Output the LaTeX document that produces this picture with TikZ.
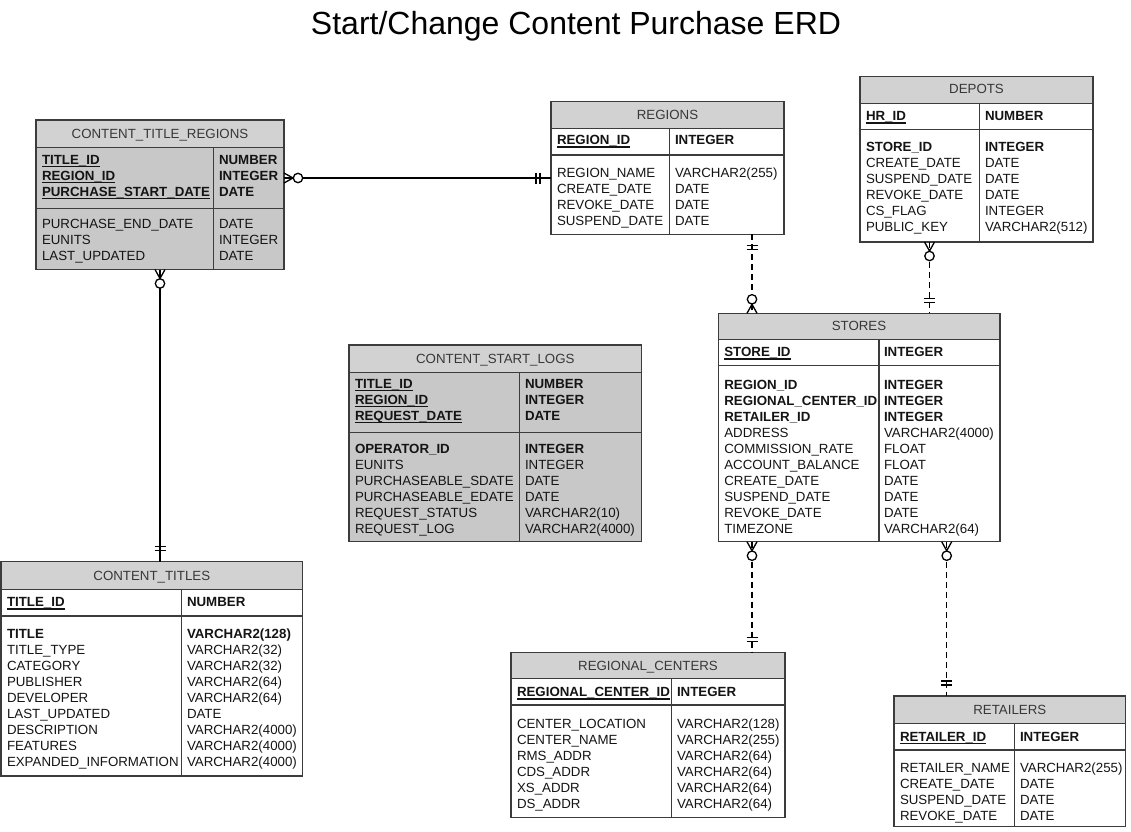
\documentclass[tikz,border=0pt]{standalone}
\usepackage{fontspec}
\setmainfont{Liberation Sans}
\usetikzlibrary{calc}
\definecolor{hdr}{RGB}{210,210,210}
\definecolor{gbody}{RGB}{200,200,200}
\definecolor{edge}{RGB}{60,60,60}
\definecolor{ink}{RGB}{20,20,20}
\newcommand\erfont{\fontsize{13.3}{16}\selectfont}
\tikzset{
 txt/.style={anchor=base west, inner sep=0pt, outer sep=0pt, font=\erfont, text=ink},
 hdrtxt/.style={anchor=base, inner sep=0pt, outer sep=0pt, font=\erfont, text=ink!85},
 ebox/.style={draw=edge, line width=1.2pt},
 erline/.style={draw=black, line width=1.3pt},
 erdash/.style={erline, dash pattern=on 6pt off 4pt},
 pkul/.style={draw=ink, line width=1.1pt},
}
% #1 name, #2 L, #3 T, #4 R, #5 header bottom, #6 pk bottom, #7 bottom, #8 divider, #9 body fill
\newcommand\erent[9]{%
 \fill[#9] (#2,#3) rectangle (#4,#7);
 \fill[hdr] (#2,#3) rectangle (#4,#5);
 \draw[ebox] (#2,#5) -- (#4,#5) (#2,#6) -- (#4,#6) (#8,#5) -- (#8,#7);
 \node[ebox, inner sep=0pt, outer sep=0pt, minimum width={(#4-#2)*1pt}, minimum height={(#7-#3)*1pt}] (#1) at ({(#2+#4)/2},{(#3+#7)/2}) {};
}
% #1 prefix, #2 x, #3 first row centre y, #4 list
\newcommand\colrows[4]{%
 \foreach \t [count=\i] in {#4}
  \node[txt] (#1\i) at (#2,{#3+4.8+16*(\i-1)}) {\t};
}
\newcommand\pkrows[4]{%
 \foreach \t [count=\i] in {#4} {
  \node[txt, font=\erfont\bfseries] (#1\i) at (#2,{#3+4.8+16*(\i-1)}) {\t};
  \draw[pkul] ([yshift=-2.2pt]#1\i.base west) -- ([yshift=-2.2pt]#1\i.base east);
 }
}
\newcommand\barsH[2]{%
 \draw[erline] ($(#1)+({11*#2},-5.5)$) -- ++(0,11);
 \draw[erline] ($(#1)+({15*#2},-5.5)$) -- ++(0,11);
}
\newcommand\crowH[2]{%
 \draw[erline] ($(#1)+(0,-5)$) -- ($(#1)+({9*#2},0)$) -- ($(#1)+(0,5)$);
 \draw[erline, fill=white] ($(#1)+({14*#2},0)$) circle (4.7);
}
\newcommand\barsV[2]{%
 \draw[erline] ($(#1)+(-5.5,{11*#2})$) -- ++(11,0);
 \draw[erline] ($(#1)+(-5.5,{15*#2})$) -- ++(11,0);
}
\newcommand\crowV[2]{%
 \draw[erline] ($(#1)+(-5,0)$) -- ($(#1)+(0,{9*#2})$) -- ($(#1)+(5,0)$);
 \draw[erline, fill=white] ($(#1)+(0,{14*#2})$) circle (4.7);
}
\begin{document}
\begin{tikzpicture}[x=1pt,y=-1pt]
\useasboundingbox[fill=white] (0,0) rectangle (1131,831);

\node[anchor=base, inner sep=0pt, font=\fontsize{32}{38}\selectfont, text=black] (title) at (576,34) {Start/Change Content Purchase ERD};

% CONTENT_TITLE_REGIONS
\erent{ctr}{36}{120}{284}{147.3}{208.7}{269.5}{213.5}{gbody}
\node[hdrtxt] (ctrh) at (160,138.3) {CONTENT\_TITLE\_REGIONS};
\pkrows{ctrpk}{42}{159.5}{TITLE\_ID,REGION\_ID,PURCHASE\_START\_DATE}
\colrows{ctrpt}{219}{159.5}{\textbf{NUMBER},\textbf{INTEGER},\textbf{DATE}}
\colrows{ctrbl}{42}{223.5}{PURCHASE\_END\_DATE,EUNITS,LAST\_UPDATED}
\colrows{ctrbt}{219}{223.5}{DATE,INTEGER,DATE}

% REGIONS
\erent{regions}{551}{101.5}{784}{128.3}{155}{234.3}{669.5}{white}
\node[hdrtxt] (regh) at (667.5,119.1) {REGIONS};
\pkrows{regpk}{557}{140}{REGION\_ID}
\colrows{regpt}{675}{140}{\textbf{INTEGER}}
\colrows{regbl}{557}{172.5}{REGION\_NAME,CREATE\_DATE,REVOKE\_DATE,SUSPEND\_DATE}
\colrows{regbt}{675}{172.5}{VARCHAR2(255),DATE,DATE,DATE}

% DEPOTS
\erent{depots}{860}{76.5}{1093}{103.5}{129.5}{242}{979.5}{white}
\node[hdrtxt] (deph) at (976.5,93.3) {DEPOTS};
\pkrows{deppk}{866}{116}{HR\_ID}
\colrows{deppt}{985}{116}{\textbf{NUMBER}}
\colrows{depbl}{866}{147}{\textbf{STORE\_ID},CREATE\_DATE,SUSPEND\_DATE,REVOKE\_DATE,CS\_FLAG,PUBLIC\_KEY}
\colrows{depbt}{985}{147}{\textbf{INTEGER},DATE,DATE,DATE,INTEGER,VARCHAR2(512)}

% STORES
\erent{stores}{718.3}{313.3}{1000}{339.3}{365.7}{541.7}{879}{white}
\node[hdrtxt] (stoh) at (859,330.5) {STORES};
\pkrows{stopk}{724.3}{352}{STORE\_ID}
\colrows{stopt}{884}{352}{\textbf{INTEGER}}
\colrows{stobl}{724.3}{384.3}{\textbf{REGION\_ID},\textbf{REGIONAL\_CENTER\_ID},\textbf{RETAILER\_ID},ADDRESS,COMMISSION\_RATE,ACCOUNT\_BALANCE,CREATE\_DATE,SUSPEND\_DATE,REVOKE\_DATE,TIMEZONE}
\colrows{stobt}{884}{384.3}{\textbf{INTEGER},\textbf{INTEGER},\textbf{INTEGER},VARCHAR2(4000),FLOAT,FLOAT,DATE,DATE,DATE,VARCHAR2(64)}

% CONTENT_START_LOGS
\erent{csl}{349}{345}{641.7}{372.3}{432.3}{541.7}{519.3}{gbody}
\node[hdrtxt] (cslh) at (495.3,363.8) {CONTENT\_START\_LOGS};
\pkrows{cslpk}{355}{383.5}{TITLE\_ID,REGION\_ID,REQUEST\_DATE}
\colrows{cslpt}{525}{383.5}{\textbf{NUMBER},\textbf{INTEGER},\textbf{DATE}}
\colrows{cslbl}{355}{449}{\textbf{OPERATOR\_ID},EUNITS,PURCHASEABLE\_SDATE,PURCHASEABLE\_EDATE,REQUEST\_STATUS,REQUEST\_LOG}
\colrows{cslbt}{525}{449}{\textbf{INTEGER},INTEGER,DATE,DATE,VARCHAR2(10),VARCHAR2(4000)}

% CONTENT_TITLES
\erent{ct}{1}{561.7}{302.7}{589.3}{616}{776}{181.7}{white}
\node[hdrtxt] (cth) at (151.8,580.3) {CONTENT\_TITLES};
\pkrows{ctpk}{7}{602}{TITLE\_ID}
\colrows{ctpt}{187}{602}{\textbf{NUMBER}}
\colrows{ctbl}{7}{634}{\textbf{TITLE},TITLE\_TYPE,CATEGORY,PUBLISHER,DEVELOPER,LAST\_UPDATED,DESCRIPTION,FEATURES,EXPANDED\_INFORMATION}
\colrows{ctbt}{187}{634}{\textbf{VARCHAR2(128)},VARCHAR2(32),VARCHAR2(32),VARCHAR2(64),VARCHAR2(64),DATE,VARCHAR2(4000),VARCHAR2(4000),VARCHAR2(4000)}

% REGIONAL_CENTERS
\erent{rc}{511}{652.3}{785}{678.3}{705}{817.3}{671.7}{white}
\node[hdrtxt] (rch) at (648,670.5) {REGIONAL\_CENTERS};
\pkrows{rcpk}{517}{692}{REGIONAL\_CENTER\_ID}
\colrows{rcpt}{677}{692}{\textbf{INTEGER}}
\colrows{rcbl}{517}{724}{CENTER\_LOCATION,CENTER\_NAME,RMS\_ADDR,CDS\_ADDR,XS\_ADDR,DS\_ADDR}
\colrows{rcbt}{677}{724}{VARCHAR2(128),VARCHAR2(255),VARCHAR2(64),VARCHAR2(64),VARCHAR2(64),VARCHAR2(64)}

% RETAILERS
\erent{ret}{894}{696}{1125.7}{723.3}{750}{826.7}{1014.3}{white}
\node[hdrtxt] (reth) at (1009.8,714.8) {RETAILERS};
\pkrows{retpk}{900}{736.5}{RETAILER\_ID}
\colrows{retpt}{1020}{736.5}{\textbf{INTEGER}}
\colrows{retbl}{900}{767.3}{RETAILER\_NAME,CREATE\_DATE,SUSPEND\_DATE,REVOKE\_DATE}
\colrows{retbt}{1020}{767.3}{VARCHAR2(255),DATE,DATE,DATE}

% connectors
\coordinate (c1a) at ($(ctr.north east)+(0,58)$);
\coordinate (c1b) at (c1a -| regions.west);
\draw[erline] (c1a) -- (c1b);
\crowH{c1a}{1}
\barsH{c1b}{-1}

\coordinate (c2a) at ($(ctr.south west)+(124,0)$);
\coordinate (c2b) at (c2a |- ct.north);
\draw[erline] (c2a) -- (c2b);
\crowV{c2a}{1}
\barsV{c2b}{-1}

\coordinate (c3a) at ($(regions.south west)+(201,0)$);
\coordinate (c3b) at (c3a |- stores.north);
\draw[erdash] (c3a) -- (c3b);
\barsV{c3a}{1}
\crowV{c3b}{-1}

\coordinate (c4a) at ($(depots.south west)+(69.5,0)$);
\coordinate (c4b) at (c4a |- stores.north);
\draw[erdash] (c4a) -- (c4b);
\crowV{c4a}{1}
\barsV{c4b}{-1}

\coordinate (c5a) at ($(stores.south west)+(33.7,0)$);
\coordinate (c5b) at (c5a |- rc.north);
\draw[erdash] (c5a) -- (c5b);
\crowV{c5a}{1}
\barsV{c5b}{-1}

\coordinate (c6a) at ($(stores.south west)+(228.4,0)$);
\coordinate (c6b) at (c6a |- ret.north);
\draw[erdash] (c6a) -- (c6b);
\crowV{c6a}{1}
\barsV{c6b}{-1}
\end{tikzpicture}
\end{document}
